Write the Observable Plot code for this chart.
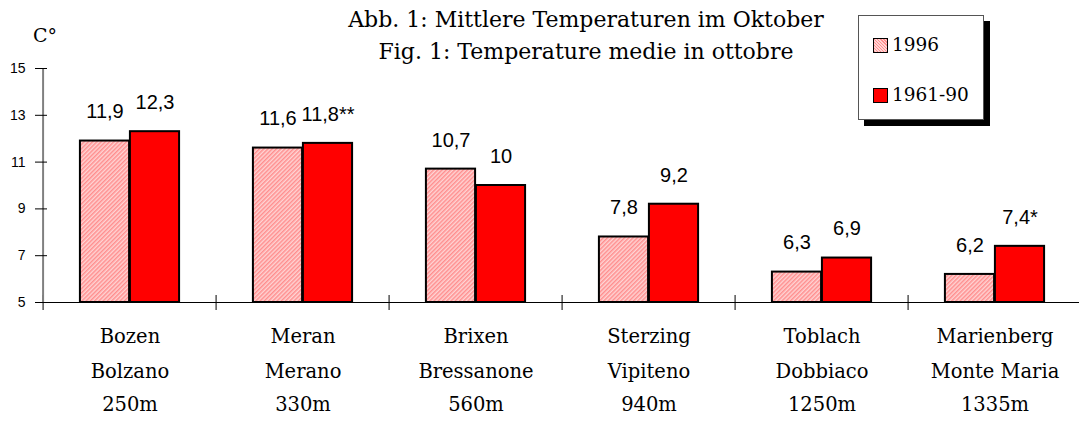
<!DOCTYPE html>
<html>
<head>
<meta charset="utf-8">
<script src="https://cdn.jsdelivr.net/npm/d3@7"></script>
<script src="https://cdn.jsdelivr.net/npm/@observablehq/plot@0.6"></script>
<style>
  html, body { margin: 0; padding: 0; background: #fff; overflow: hidden; }
  #wrap { position: relative; width: 1079px; height: 425px; }
  #title { position: absolute; left: 0; top: 4px; width: 1172px; text-align: center;
           font-family: "DejaVu Serif"; font-size: 22px; line-height: 32px; color: #000; }
  #unit { position: absolute; left: 33px; top: 22px; font-family: "DejaVu Serif"; font-size: 19px; line-height: 26px; }
  #legend { position: absolute; left: 858px; top: 15px; width: 124px; height: 103px;
            border: 1px solid #555; background: #fff; box-shadow: 6px 6px 0 #000;
            font-family: "DejaVu Serif"; font-size: 18.5px; }
  .item { position: absolute; left: 14px; height: 20px; line-height: 20px; }
  .sw { display: inline-block; width: 13px; height: 13px; border: 1.5px solid #000; vertical-align: -2px; margin-right: 4px; }
</style>
</head>
<body>
<div id="wrap">
  <div id="chart"></div>
  <div id="title"></div>
  <div id="unit"></div>
  <div id="legend"></div>
</div>
<script>
// ---- data ----
const stations   = ["Bozen", "Meran", "Brixen", "Sterzing", "Toblach", "Marienberg"];
const stationsIt = ["Bolzano", "Merano", "Bressanone", "Vipiteno", "Dobbiaco", "Monte Maria"];
const elevations = ["250m", "330m", "560m", "940m", "1250m", "1335m"];
const seriesNames = ["1996", "1961-90"];
const temps1996  = [11.9, 11.6, 10.7, 7.8, 6.3, 6.2];
const temps6190  = [12.3, 11.8, 10.0, 9.2, 6.9, 7.4];
const notes6190  = ["", "**", "", "", "", "*"];
const yTicks     = [5, 7, 9, 11, 13, 15];
const titleLines = ["Abb. 1: Mittlere Temperaturen im Oktober", "Fig. 1: Temperature medie in ottobre"];
const unitLabel  = "C°";

// ---- tables ----
const fmt = v => v.toLocaleString("de-DE", {maximumFractionDigits: 1});
const rows1996 = stations.map((s, i) => ({station: s, value: temps1996[i], label: fmt(temps1996[i])}));
const rows6190 = stations.map((s, i) => ({station: s, value: temps6190[i], label: fmt(temps6190[i]) + notes6190[i]}));

const W = 1079, H = 425;
const xRange = [40, 1083];
const bw = (xRange[1] - xRange[0]) / stations.length;
const yMin = yTicks[0], yMax = yTicks[yTicks.length - 1];

const svg = Plot.plot({
  width: W, height: H,
  marginLeft: 40, marginRight: 0, marginTop: 68, marginBottom: 123,
  style: {fontFamily: "Liberation Sans", background: "transparent", overflow: "visible"},
  x: {domain: stations, range: xRange, padding: 0, axis: null},
  y: {domain: [yMin, yMax], axis: null},
  marks: [
    Plot.barY(rows1996, {x: "station", y1: yMin, y2: "value", fill: "url(#hatch1996)", stroke: "#000", strokeWidth: 2,
      insetLeft: bw / 2 - 50, insetRight: bw / 2}),
    Plot.barY(rows6190, {x: "station", y1: yMin, y2: "value", fill: "#ff0000", stroke: "#000", strokeWidth: 2,
      insetLeft: bw / 2, insetRight: bw / 2 - 50}),
    // x axis line
    Plot.ruleY([yMin], {stroke: "#000", strokeWidth: 1.2}),
    // category separator ticks
    Plot.tickX(stations, {x: d => d, dx: -bw / 2, stroke: "#000", strokeWidth: 1, insetTop: 227, insetBottom: -8}),
    // y axis line
    Plot.ruleX([stations[0]], {x: d => d, dx: -bw / 2, y1: yMin, y2: yMax, stroke: "#808080", strokeWidth: 2}),
    // y ticks (crossing)
    Plot.tickY(yTicks, {y: d => d, stroke: "#000", strokeWidth: 1, insetLeft: -5, insetRight: (W - 40) - 7}),
    Plot.text(yTicks, {y: d => d, text: d => String(d), frameAnchor: "left", dx: -15, textAnchor: "end",
      fontSize: 14, letterSpacing: "-0.5px", fill: "#000"}),
    // value labels
    Plot.text(rows1996, {x: "station", y: "value", text: "label", dx: -25, dy: -29, fontSize: 20, fill: "#000"}),
    Plot.text(rows6190, {x: "station", y: "value", text: "label", dx: 25, dy: -29, fontSize: 20, fill: "#000"}),
    // category labels (3 lines)
    Plot.text(stations, {x: d => d, text: d => d, frameAnchor: "bottom", dy: 40, fontFamily: "DejaVu Serif", fontSize: 19.5, fill: "#000"}),
    Plot.text(stations, {x: d => d, text: (d, i) => stationsIt[i], frameAnchor: "bottom", dy: 75, fontFamily: "DejaVu Serif", fontSize: 19.5, fill: "#000"}),
    Plot.text(stations, {x: d => d, text: (d, i) => elevations[i], frameAnchor: "bottom", dy: 108.5, fontFamily: "DejaVu Serif", fontSize: 19.5, fill: "#000"})
  ]
});

// hatch pattern for 1996 bars
const NS = "http://www.w3.org/2000/svg";
const defs = document.createElementNS(NS, "defs");
defs.innerHTML = `<pattern id="hatch1996" patternUnits="userSpaceOnUse" width="3" height="3" patternTransform="rotate(45)">
  <rect width="3" height="3" fill="#ffd4d4"></rect>
  <rect width="1.5" height="3" fill="#ff8e8e"></rect>
</pattern>`;
svg.insertBefore(defs, svg.firstChild);
document.getElementById("chart").appendChild(svg);

// title, unit, legend
document.getElementById("title").innerHTML = titleLines.map(t => `<div>${t}</div>`).join("");
document.getElementById("unit").textContent = unitLabel;
const legend = document.getElementById("legend");
const swatchStyles = [
  "background: repeating-linear-gradient(45deg, #ff8e8e 0 1px, #ffd4d4 1px 2.2px);",
  "background: #ff0000;"
];
seriesNames.forEach((name, i) => {
  const it = document.createElement("div");
  it.className = "item";
  it.style.top = (i === 0 ? 19 : 69) + "px";
  it.innerHTML = `<span class="sw" style="${swatchStyles[i]}"></span>${name}`;
  legend.appendChild(it);
});
</script>
</body>
</html>
